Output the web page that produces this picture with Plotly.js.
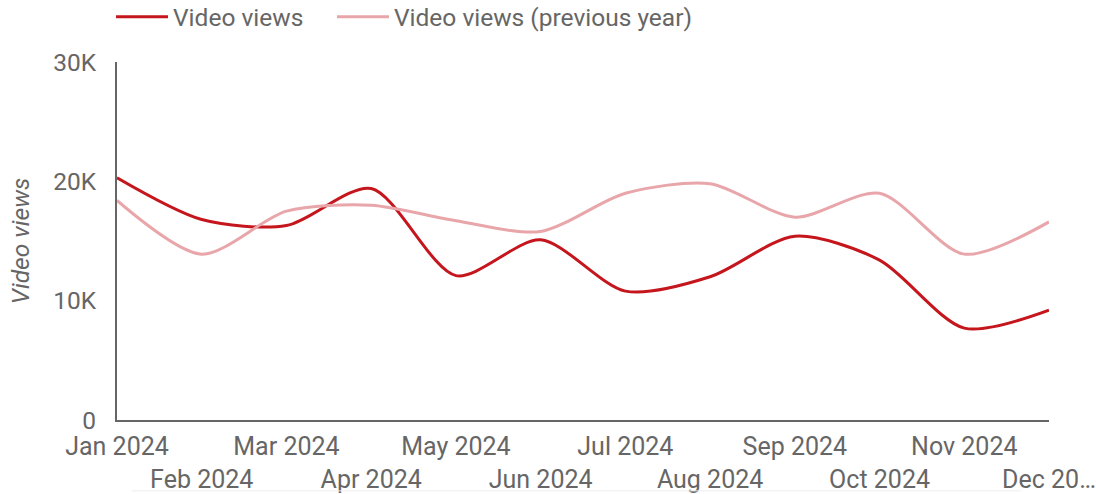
<!DOCTYPE html>
<html>
<head>
<meta charset="utf-8">
<script src="https://cdn.plot.ly/plotly-3.0.1.min.js"></script>
<style>html,body{margin:0;padding:0;background:#fff;}#chart{width:1096px;height:494px;}</style>
</head>
<body>
<div id="chart"></div>
<script>
const months = ["Jan 2024","Feb 2024","Mar 2024","Apr 2024","May 2024","Jun 2024","Jul 2024","Aug 2024","Sep 2024","Oct 2024","Nov 2024","Dec 2024"];
const tickLabels = ["Jan 2024","<br>Feb 2024","Mar 2024","<br>Apr 2024","May 2024","<br>Jun 2024","Jul 2024","<br>Aug 2024","Sep 2024","<br>Oct 2024","Nov 2024","<br>Dec 20…"];
const videoViews = [20300, 16800, 16300, 19400, 12100, 15100, 10800, 12000, 15400, 13400, 7700, 9200];
const videoViewsPrev = [18400, 13900, 17500, 18000, 16700, 15800, 19000, 19800, 17000, 19000, 13900, 16600];
const yTickVals = [0, 10000, 20000, 30000];
const yTickText = ["0", "10K", "20K", "30K"];

const font = "Roboto, 'Noto Sans', sans-serif";
const fs = 24.5;
const traces = [
  {x: months, y: videoViews, name: "Video views", type: "scatter", mode: "lines", legend: "legend",
   line: {color: "#c5161d", width: 3, shape: "spline", smoothing: 0.8}},
  {x: months, y: videoViewsPrev, name: "Video views (previous year)", type: "scatter", mode: "lines", legend: "legend2",
   line: {color: "#e8a6aa", width: 3, shape: "spline", smoothing: 0.8}}
];
const legendBase = {orientation: "h", xref: "container", yref: "container", y: 0.966, xanchor: "left", yanchor: "middle",
                    font: {size: fs, color: "#666"}, itemwidth: 52};
const layout = {
  width: 1096, height: 494,
  margin: {l: 117, r: 47, t: 62, b: 74},
  paper_bgcolor: "#fff", plot_bgcolor: "#fff",
  font: {family: font, color: "#666", size: fs},
  showlegend: true,
  legend: Object.assign({}, legendBase, {x: 0.1013}),
  legend2: Object.assign({}, legendBase, {x: 0.3029}),
  xaxis: {type: "category", range: [0, 11], tickvals: months, ticktext: tickLabels,
          showline: true, linecolor: "#666", linewidth: 2, showgrid: false, zeroline: false,
          ticks: "", tickangle: 0, ticklabelstandoff: 3, tickfont: {size: 25, color: "#666"}, automargin: false},
  yaxis: {range: [0, 30000], tickvals: yTickVals, ticktext: yTickText,
          showline: true, linecolor: "#666", linewidth: 2, showgrid: false, zeroline: false,
          ticks: "", ticklabelstandoff: 14, tickfont: {size: fs, color: "#666"}, automargin: false,
          title: {text: "<i>Video views</i>", font: {size: fs, color: "#666"}, standoff: 17}},
  shapes: [{type: "line", xref: "paper", yref: "paper", x0: 0.016, x1: 0.97, y0: -0.198, y1: -0.198,
            line: {color: "#eeeeee", width: 1}}]
};
Plotly.newPlot("chart", traces, layout, {displayModeBar: false, staticPlot: true});
</script>
</body>
</html>
